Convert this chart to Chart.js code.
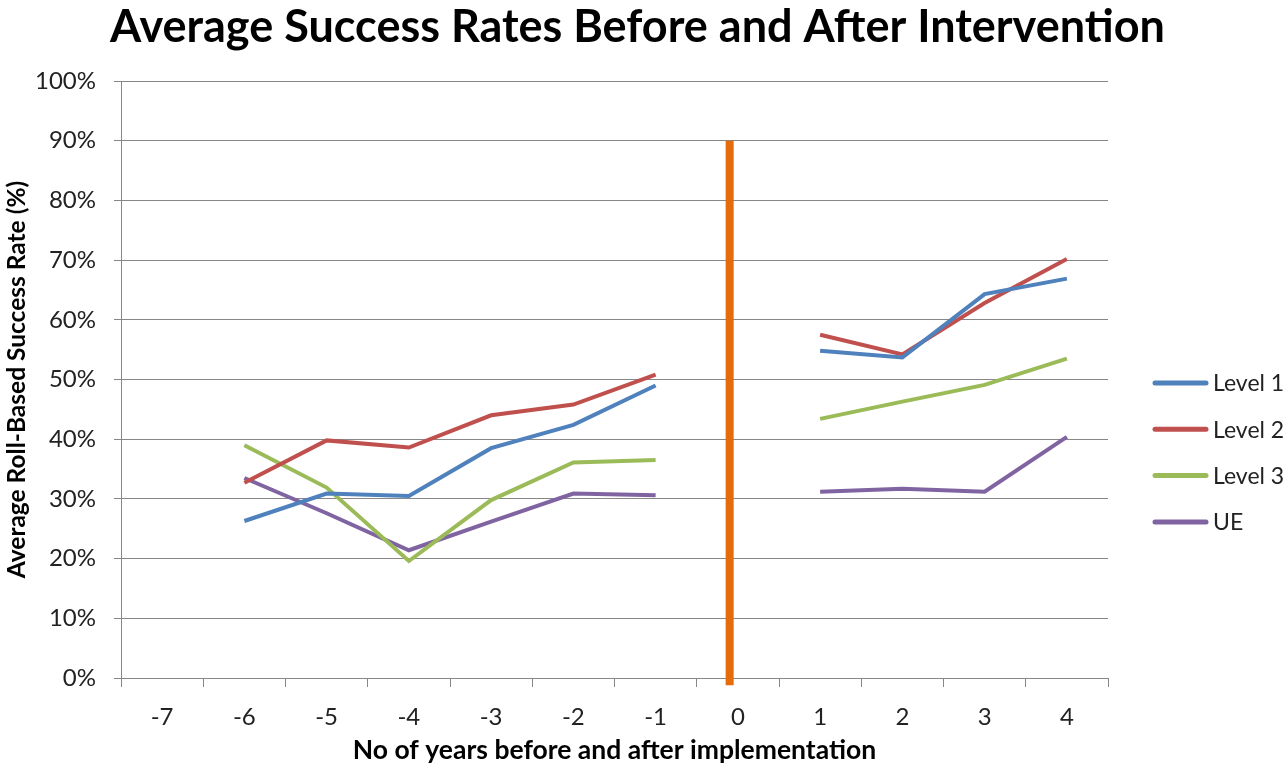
<!DOCTYPE html>
<html>
<head>
<meta charset="utf-8">
<script src="https://cdn.jsdelivr.net/npm/chart.js@4/dist/chart.umd.min.js"></script>
<style>
  body { margin: 0; background: #fff; }
  #wrap { width: 1288px; height: 770px; }
</style>
</head>
<body>
<div id="wrap"><canvas id="chart"></canvas></div>
<script>
"use strict";

var $ = function(id) {
    return document.getElementById(id);
};

// years relative to implementation
var years = ['-7', '-6', '-5', '-4', '-3', '-2', '-1', '0', '1', '2', '3', '4'];

// average success rates (%), gap at year 0
var level1 = [null, 26.3, 30.9, 30.5, 38.5, 42.4, 49.0, null, 54.8, 53.7, 64.3, 66.9];
var level2 = [null, 32.7, 39.8, 38.6, 44.0, 45.8, 50.8, null, 57.5, 54.2, 62.8, 70.2];
var level3 = [null, 39.0, 31.9, 19.6, 29.8, 36.1, 36.5, null, 43.4, 46.3, 49.1, 53.5];
var ue     = [null, 33.5, 27.6, 21.4, 26.2, 30.9, 30.6, null, 31.2, 31.7, 31.2, 40.4];

// intervention marker (year position, top and bottom of the bar)
var markerX = -0.1;
var markerTop = 90;
var markerBottom = -1.2;

var yTicks = [0, 10, 20, 30, 40, 50, 60, 70, 80, 90, 100];

var FONT = "Lato, 'Open Sans', sans-serif";
var GRID = '#878787';

function series(label, data, color) {
  return {
    label: label,
    data: data,
    borderColor: color,
    backgroundColor: color,
    borderWidth: 4,
    pointRadius: 0,
    pointHoverRadius: 0,
    tension: 0,
    spanGaps: false,
    xAxisID: 'x',
    yAxisID: 'y'
  };
}

// legend to the right of the plot: short line + label per series
var sideLegend = {
  id: 'sideLegend',
  afterDraw: function(chart) {
    var c = chart.ctx;
    var area = chart.chartArea;
    var x0 = area.right + 45;
    var y0 = area.top + 302;
    var step = 46.3;
    var row = 0;
    c.save();
    c.font = "23px " + FONT;
    c.textBaseline = 'middle';
    c.textAlign = 'left';
    chart.data.datasets.forEach(function(ds) {
      if (ds.label === 'marker') return;
      var y = y0 + row * step;
      c.strokeStyle = ds.borderColor;
      c.lineWidth = 5;
      c.lineCap = 'round';
      c.beginPath();
      c.moveTo(x0 + 2, y);
      c.lineTo(x0 + 53, y);
      c.stroke();
      c.fillStyle = '#222';
      c.fillText(ds.label, x0 + 60, y + 1);
      row += 1;
    });
    c.restore();
  }
};

window.onload = function() {
  var ctx = $("chart").getContext('2d');
  var myChart = new Chart(ctx, {
    type: 'line',
    data: {
      labels: years,
      datasets: [
        series('Level 1', level1, '#4F81BD'),
        series('Level 2', level2, '#C0504D'),
        series('Level 3', level3, '#9BBB59'),
        series('UE', ue, '#8064A2'),
        {
          label: 'marker',
          data: [{x: markerX, y: markerTop}, {x: markerX, y: markerBottom}],
          borderColor: '#E46C0A',
          backgroundColor: '#E46C0A',
          borderWidth: 8,
          pointRadius: 0,
          clip: false,
          xAxisID: 'x2',
          yAxisID: 'y'
        }
      ]
    },
    options: {
      responsive: true,
      maintainAspectRatio: false,
      animation: false,
      layout: { padding: { left: 2, right: 15, top: 0, bottom: 5 } },
      plugins: {
        tooltip: { enabled: false },
        legend: { display: false },
        title: {
          display: true,
          text: 'Average Success Rates Before and After Intervention',
          color: '#000',
          font: { family: FONT, size: 45, weight: 'bold' },
          padding: { top: 0, bottom: 27 }
        }
      },
      scales: {
        x: {
          type: 'category',
          offset: true,
          afterFit: function(scale) { scale.height = 87; },
          grid: {
            offset: true,
            drawOnChartArea: false,
            drawTicks: true,
            tickLength: 9,
            color: GRID
          },
          border: { color: GRID },
          ticks: {
            color: '#222',
            font: { family: FONT, size: 24 },
            padding: 16
          },
          title: {
            display: true,
            text: 'No of years before and after implementation',
            color: '#000',
            font: { family: FONT, size: 26.5, weight: 'bold' },
            padding: { top: 0, bottom: -1 }
          }
        },
        x2: {
          type: 'linear',
          display: false,
          min: -7.5,
          max: 4.5
        },
        y: {
          min: 0,
          max: 100,
          afterFit: function(scale) { scale.width = 119; },
          afterBuildTicks: function(scale) {
            scale.ticks = yTicks.map(function(v) { return {value: v}; });
          },
          grid: {
            color: GRID,
            tickLength: 7
          },
          border: { color: GRID },
          ticks: {
            color: '#222',
            font: { family: FONT, size: 24 },
            padding: 18,
            callback: function(v) { return v + '%'; }
          },
          title: {
            display: true,
            text: 'Average Roll-Based Success Rate (%)',
            color: '#000',
            font: { family: FONT, size: 24.5, weight: 'bold' },
            padding: { top: 0, bottom: 8 }
          }
        },
        // room on the right for the legend
        gap: {
          position: 'right',
          display: true,
          grid: { display: false },
          border: { display: false },
          ticks: { display: false },
          afterFit: function(scale) { scale.width = 165; }
        }
      }
    },
    plugins: [sideLegend]
  });
};
</script>
</body>
</html>
